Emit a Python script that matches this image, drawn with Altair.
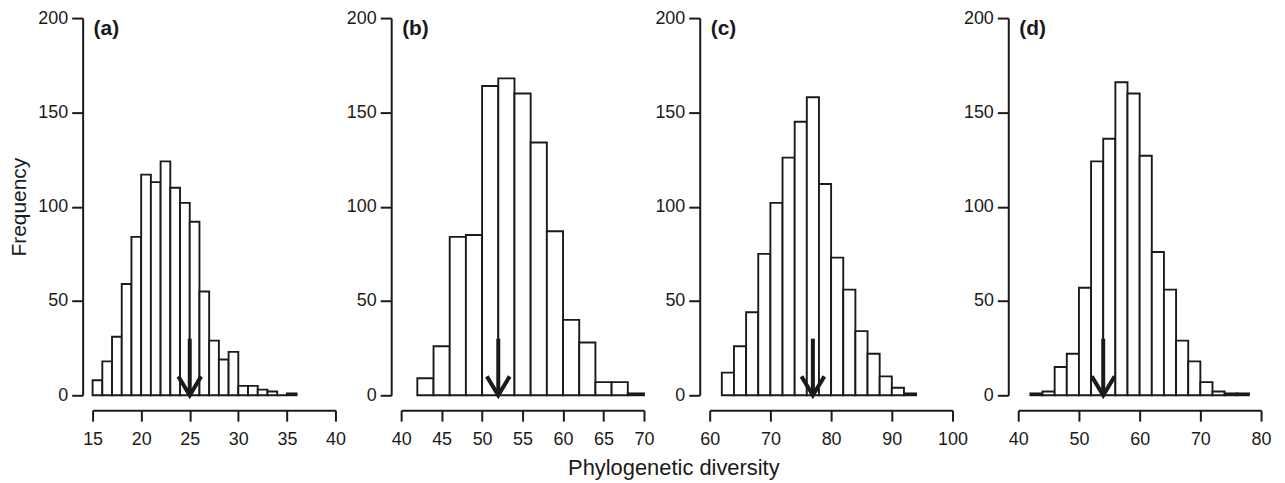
import altair as alt
import pandas as pd

FONT = "Liberation Sans"
INK = "#1a1a1a"

panel_labels = ["(a)", "(b)", "(c)", "(d)"]
x_domains = [[15, 40], [40, 70], [60, 100], [40, 80]]
x_ticks = [
    [15, 20, 25, 30, 35, 40],
    [40, 45, 50, 55, 60, 65, 70],
    [60, 70, 80, 90, 100],
    [40, 50, 60, 70, 80],
]
y_ticks = [0, 50, 100, 150, 200]

first_bin = [15, 42, 62, 42]
bin_width = [1, 2, 2, 2]
counts_a = [8, 18, 31, 59, 84, 117, 113, 124, 110, 102, 92, 55, 29, 19, 23, 5, 5, 3, 2, 0, 1]
counts_b = [9, 26, 84, 85, 164, 168, 160, 134, 87, 40, 28, 7, 7, 1]
counts_c = [12, 26, 44, 75, 102, 126, 145, 158, 112, 73, 56, 34, 22, 10, 4, 1]
counts_d = [1, 2, 15, 22, 57, 124, 136, 166, 160, 127, 76, 56, 29, 18, 7, 2, 1, 1]
all_counts = [counts_a, counts_b, counts_c, counts_d]

observed = [25, 52, 77, 54]
arrow_top = 30

ARROW_HEAD = "M-1,-1.65L0,0L1,-1.65"


def panel(i):
    counts = all_counts[i]
    starts = [first_bin[i] + k * bin_width[i] for k in range(len(counts))]
    ends = [s + bin_width[i] for s in starts]
    df = pd.DataFrame({"start": starts, "end": ends, "count": counts, "base": [0] * len(counts)})

    xs = alt.Scale(domain=x_domains[i], nice=False, zero=False)
    ys = alt.Scale(domain=[0, 200], nice=False)

    xaxis = alt.Axis(values=x_ticks[i], offset=15, tickSize=11, labelPadding=9,
                     grid=False, domainWidth=2, tickWidth=2, domainColor=INK,
                     tickColor=INK, labelColor=INK, labelFont=FONT, labelFontSize=18,
                     labelFlush=False)
    ykw = dict(values=y_ticks, offset=10, tickSize=11, labelPadding=4, grid=False,
               domainWidth=2, tickWidth=2, domainColor=INK, tickColor=INK,
               labelColor=INK, labelFont=FONT, labelFontSize=18, labelFlush=False)
    if i == 0:
        ykw.update(title="Frequency", titleFont=FONT, titleFontSize=21,
                   titleFontWeight="normal", titleColor=INK, titlePadding=8)
    else:
        ykw.update(title=None)
    yaxis = alt.Axis(**ykw)

    bars = alt.Chart(df).mark_rect(fill="white", stroke=INK, strokeWidth=1.9).encode(
        x=alt.X("start:Q", scale=xs, axis=xaxis, title=None),
        x2="end:Q",
        y=alt.Y("count:Q", scale=ys, axis=yaxis),
        y2="base:Q",
    )

    adf = pd.DataFrame({"x": [observed[i]], "top": [arrow_top], "bottom": [0]})
    shaft = alt.Chart(adf).mark_rule(color=INK, strokeWidth=4).encode(
        x="x:Q", y="top:Q", y2="bottom:Q")
    head = alt.Chart(adf).mark_point(shape=ARROW_HEAD, size=529, filled=False,
                                     stroke=INK, strokeWidth=4, strokeJoin="miter",
                                     opacity=1).encode(x="x:Q", y="bottom:Q")

    ldf = pd.DataFrame({"x": [x_domains[i][0]], "y": [200], "label": [panel_labels[i]]})
    label = alt.Chart(ldf).mark_text(align="left", baseline="top", font=FONT,
                                     fontSize=21, fontWeight="bold", color=INK,
                                     dx=1, dy=0).encode(x="x:Q", y="y:Q", text="label:N")

    return alt.layer(bars, shaft, head, label).properties(width=244, height=379)


chart = alt.hconcat(*[panel(i) for i in range(4)], spacing=66, bounds="flush").properties(
    title=alt.TitleParams("Phylogenetic diversity", orient="bottom", anchor="middle",
                          fontSize=22, font=FONT, fontWeight="normal", color=INK,
                          offset=10, dx=34),
    padding={"left": 0, "top": 0, "right": 5, "bottom": 0},
    background="white",
).configure_view(stroke=None)

chart.save("out.html", embed_options={"renderer": "svg", "actions": False})
